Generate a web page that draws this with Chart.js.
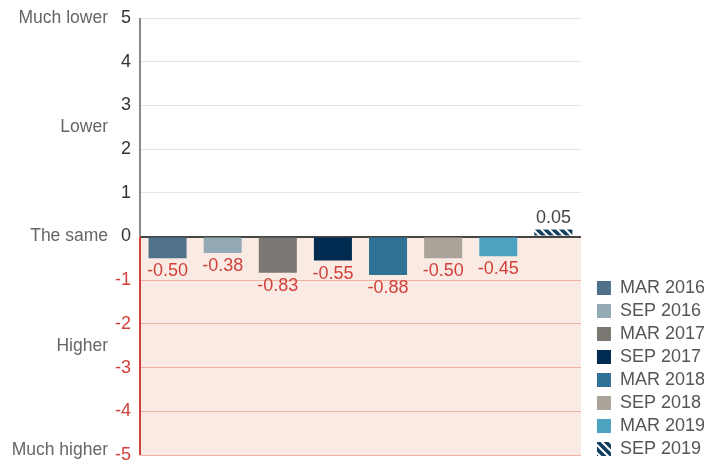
<!DOCTYPE html>
<html>
<head>
<meta charset="utf-8">
<script src="https://cdn.jsdelivr.net/npm/chart.js@4"></script>
<style>
  html, body { margin: 0; padding: 0; background: #fff; }
  #wrap { width: 704px; height: 462px; }
</style>
</head>
<body>
<div id="wrap"><canvas id="chart" width="704" height="462"></canvas></div>
<script>
/* ===== データ ===== */
const periods = ['MAR 2016', 'SEP 2016', 'MAR 2017', 'SEP 2017', 'MAR 2018', 'SEP 2018', 'MAR 2019', 'SEP 2019'];
const values = [-0.50, -0.38, -0.83, -0.55, -0.88, -0.50, -0.45, 0.05];
const barColors = ['#4f7189', '#93a9b3', '#7b7772', '#012a50', '#2e7396', '#aaa399', '#4ea2c1', 'hatch'];
const sideLabels = [
  { v: 5, t: 'Much lower' },
  { v: 2.5, t: 'Lower' },
  { v: 0, t: 'The same' },
  { v: -2.5, t: 'Higher' },
  { v: -5, t: 'Much higher' },
];

const FONT = "'Liberation Sans', Arial, sans-serif";
const RED = '#d2403c';

/* 斜線パターン */
function hatchPattern() {
  const c = document.createElement('canvas');
  c.width = 8; c.height = 8;
  const x = c.getContext('2d');
  x.fillStyle = '#0f3e5e';
  x.fillRect(0, 0, 8, 8);
  x.strokeStyle = '#ffffff';
  x.lineWidth = 2;
  x.beginPath();
  x.moveTo(-2, -2); x.lineTo(10, 10);
  x.moveTo(-6, 2); x.lineTo(2, 10);
  x.moveTo(6, -2); x.lineTo(10, 2);
  x.stroke();
  return x.createPattern(c, 'repeat');
}

const ctx = document.getElementById('chart').getContext('2d');
const hatch = hatchPattern();
const fills = barColors.map(c => c === 'hatch' ? hatch : c);

/* 背景・軸・ラベル */
const decor = {
  id: 'decor',
  afterLayout(chart) {
    // 凡例を右下へ寄せる
    const lg = chart.legend;
    if (lg) { lg.left += 11; lg.right += 11; lg.top += 8; lg.bottom += 8; }
  },
  beforeDraw(chart) {
    const { ctx, chartArea: a, scales: { y } } = chart;
    const z = y.getPixelForValue(0);
    ctx.save();
    ctx.fillStyle = '#f9ebe3';
    ctx.fillRect(a.left, z, a.right - a.left, a.bottom - z);
    ctx.restore();
  },
  afterDraw(chart) {
    const { ctx, chartArea: a, scales: { y } } = chart;
    const z = y.getPixelForValue(0);
    ctx.save();
    // 軸
    ctx.lineWidth = 2;
    ctx.strokeStyle = '#8a8a8a';
    ctx.beginPath(); ctx.moveTo(a.left, a.top); ctx.lineTo(a.left, z); ctx.stroke();
    ctx.strokeStyle = RED;
    ctx.beginPath(); ctx.moveTo(a.left, z); ctx.lineTo(a.left, a.bottom); ctx.stroke();
    // 左の説明
    ctx.font = '17.5px ' + FONT;
    ctx.fillStyle = '#666';
    ctx.textAlign = 'right';
    ctx.textBaseline = 'middle';
    sideLabels.forEach(s => ctx.fillText(s.t, 108, Math.min(y.getPixelForValue(s.v), 450)));
    ctx.restore();
  },
  afterDatasetsDraw(chart) {
    const { ctx } = chart;
    const meta = chart.getDatasetMeta(0);
    ctx.save();
    ctx.font = '18px ' + FONT;
    ctx.textAlign = 'center';
    ctx.textBaseline = 'middle';
    meta.data.forEach((bar, i) => {
      const v = values[i];
      if (v < 0) {
        ctx.fillStyle = RED;
        ctx.fillText(v.toFixed(2), bar.x, bar.y + 13);
      } else {
        ctx.fillStyle = '#444';
        ctx.fillText(v.toFixed(2), bar.x, bar.y - 11);
      }
    });
    ctx.restore();
  },
};

new Chart(ctx, {
  type: 'bar',
  data: {
    labels: periods,
    datasets: [{
      data: values,
      backgroundColor: fills,
      borderWidth: 0,
      categoryPercentage: 1,
      barPercentage: 0.69,
      minBarLength: 7,
    }],
  },
  options: {
    responsive: false,
    animation: false,
    layout: { padding: { top: 18, bottom: 7, left: 0, right: 0 } },
    plugins: {
      tooltip: { enabled: false },
      legend: {
        position: 'right',
        align: 'end',
        onClick: null,
        labels: {
          boxWidth: 14,
          boxHeight: 14,
          padding: 5,
          color: '#555',
          font: { family: FONT, size: 18 },
          generateLabels: () => periods.map((p, i) => ({
            text: p,
            fillStyle: fills[i],
            strokeStyle: 'rgba(0,0,0,0)',
            lineWidth: 0,
            hidden: false,
            index: i,
            fontColor: '#555',
          })),
        },
      },
    },
    scales: {
      x: { display: false },
      y: {
        min: -5,
        max: 5,
        afterFit: s => { s.width = 140; s.paddingTop = 0; s.paddingBottom = 0; },
        border: { display: false },
        grid: {
          drawTicks: false,
          color: c => c.tick.value === 0 ? '#444' : (c.tick.value < 0 ? '#eeb09e' : '#e4e4e4'),
          lineWidth: c => c.tick.value === 0 ? 2 : 1,
        },
        ticks: {
          stepSize: 1,
          padding: 9,
          font: { family: FONT, size: 18 },
          color: c => c.tick.value < 0 ? RED : '#333',
          callback: v => String(v),
        },
      },
    },
  },
  plugins: [decor],
});
</script>
</body>
</html>
